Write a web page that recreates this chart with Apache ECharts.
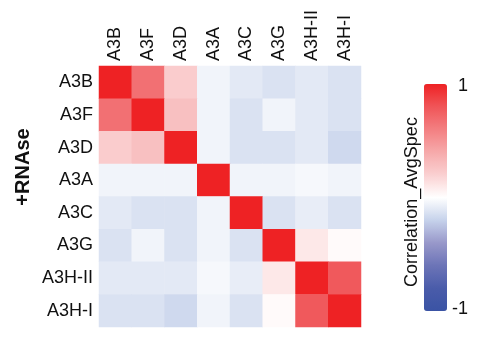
<!DOCTYPE html>
<html><head><meta charset="utf-8">
<script src="https://cdn.jsdelivr.net/npm/echarts@6/dist/echarts.min.js"></script>
<style>html,body{margin:0;padding:0;background:#fff}#c{width:486px;height:338px}</style>
</head><body><div id="c"></div>
<script>
const categories = ['A3B','A3F','A3D','A3A','A3C','A3G','A3H-II','A3H-I'];
const rowA3B  = [1, 0.67, 0.22, -0.05, -0.10, -0.13, -0.10, -0.13];
const rowA3F  = [0.67, 1, 0.28, -0.05, -0.13, -0.05, -0.10, -0.13];
const rowA3D  = [0.22, 0.28, 1, -0.05, -0.13, -0.13, -0.10, -0.17];
const rowA3A  = [-0.05, -0.05, -0.05, 1, -0.05, -0.05, -0.03, -0.05];
const rowA3C  = [-0.10, -0.13, -0.13, -0.05, 1, -0.13, -0.08, -0.13];
const rowA3G  = [-0.13, -0.05, -0.13, -0.05, -0.13, 1, 0.10, 0.02];
const rowA3HII = [-0.10, -0.10, -0.10, -0.03, -0.08, 0.10, 1, 0.78];
const rowA3HI  = [-0.13, -0.13, -0.17, -0.05, -0.13, 0.02, 0.78, 1];
const rows = [rowA3B,rowA3F,rowA3D,rowA3A,rowA3C,rowA3G,rowA3HII,rowA3HI];
const scaleTicks = ['1','-1'];

const data = [];
rows.forEach((r,i)=>r.forEach((v,j)=>data.push([j,i,v])));

const chart = echarts.init(document.getElementById('c'));
const font = 'Liberation Sans, Arial, sans-serif';
chart.setOption({
  animation:false,
  grid:{left:99, top:66, width:262, height:261},
  xAxis:{type:'category', data:categories, position:'top',
    axisLine:{show:false}, axisTick:{show:false}, splitLine:{show:false},
    axisLabel:{rotate:-90, fontSize:18, fontFamily:font, color:'#111', margin:5}},
  yAxis:{type:'category', data:categories, inverse:true,
    axisLine:{show:false}, axisTick:{show:false}, splitLine:{show:false},
    axisLabel:{fontSize:18, fontFamily:font, color:'#111', margin:6}},
  visualMap:{type:'continuous', min:-1, max:1, orient:'vertical', left:424, top:84,
    itemWidth:23, itemHeight:227, padding:0, calculable:false, text:null, showLabel:false,
    inRange:{color:['#3A53A4','#4A5CAA','#6C74B7','#9898CA','#C6D2EB','#FFFFFF','#FAD0D1','#F6A9AA','#F37F81','#F05558','#EE2224']}},
  graphic:[
    {type:'text', left:458, top:77, style:{text:scaleTicks[0], font:'18px '+font, fill:'#111'}},
    {type:'text', left:452, top:300, style:{text:scaleTicks[1], font:'18px '+font, fill:'#111'}},
    {type:'text', x:412, y:202, rotation:Math.PI/2, style:{text:'Correlation_AvgSpec', font:'18px '+font, fill:'#111', align:'center', verticalAlign:'middle'}},
    {type:'text', x:23, y:167, rotation:Math.PI/2, style:{text:'+RNAse', font:'bold 20px '+font, fill:'#111', align:'center', verticalAlign:'middle'}}
  ],
  series:[{type:'heatmap', data:data, itemStyle:{borderWidth:0}, emphasis:{disabled:true}}]
});
</script></body></html>
